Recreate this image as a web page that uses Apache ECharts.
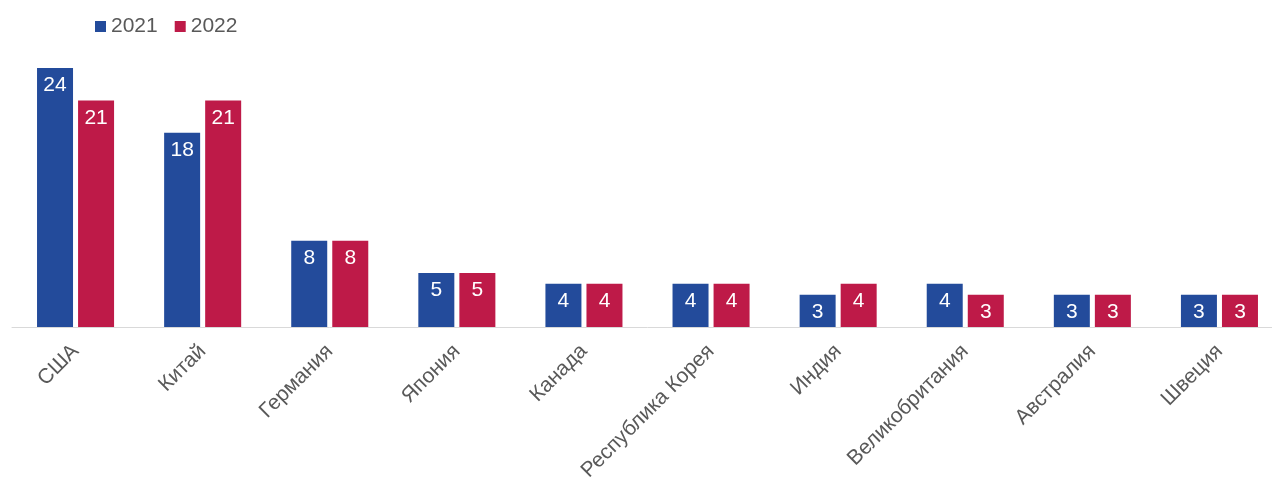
<!DOCTYPE html>
<html><head><meta charset="utf-8">
<script src="https://cdn.jsdelivr.net/npm/echarts@6/dist/echarts.min.js"></script>
<style>html,body{margin:0;padding:0;background:#fff;overflow:hidden;width:1272px;height:481px}#c{width:1284px;height:481px}</style>
</head><body><div id="c"></div>
<script>
const categories = ["США","Китай","Германия","Япония","Канада","Республика Корея","Индия","Великобритания","Австралия","Швеция"];
const values2021 = [24,18,8,5,4,4,3,4,3,3];
const values2022 = [21,21,8,5,4,4,4,3,3,3];
const seriesNames = ["2021","2022"];

const chart = echarts.init(document.getElementById('c'));
const font = '"Liberation Sans", Arial, sans-serif';
const lbl = {show:true, position:'insideTop', color:'#fff', fontSize:21, fontFamily:font, distance:7};
chart.setOption({
  animation:false,
  textStyle:{fontFamily:font},
  legend:{left:90, top:11, itemWidth:11, itemHeight:11, itemGap:17, icon:'rect',
    textStyle:{fontSize:21, color:'#595959', fontFamily:font}, data:seriesNames},
  grid:{left:12, right:1, top:68, bottom:154, containLabel:false, outerBoundsMode:'none'},
  xAxis:{type:'category', data:categories,
    axisLine:{lineStyle:{color:'#d9d9d9', width:1}}, axisTick:{show:false},
    axisLabel:{rotate:45, interval:0, margin:21, fontSize:21, color:'#595959', fontFamily:font}},
  yAxis:{type:'value', min:0, max:24, show:false, splitLine:{show:false}},
  series:[
    {name:seriesNames[0], type:'bar', data:values2021, barWidth:36, barGap:'14%', itemStyle:{color:'#234b9b'}, label:lbl},
    {name:seriesNames[1], type:'bar', data:values2022, barWidth:36, itemStyle:{color:'#be1a48'}, label:lbl}
  ]
});
</script></body></html>
